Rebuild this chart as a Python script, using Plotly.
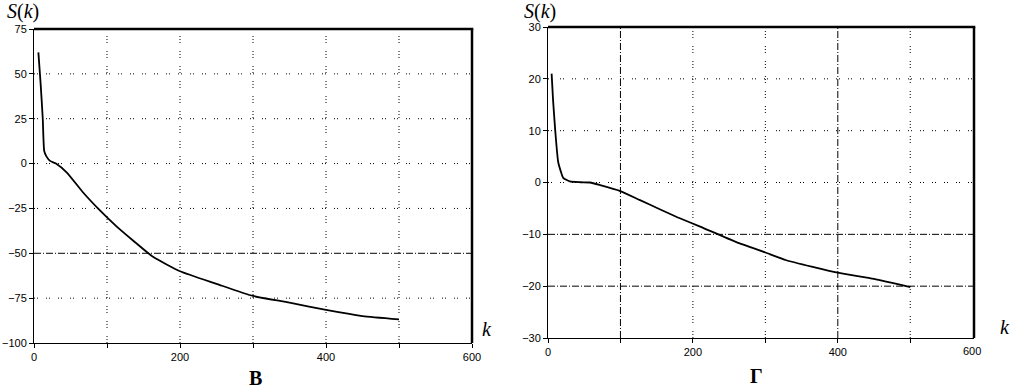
import plotly.graph_objects as go

# ---------- data ----------
k_left = [6, 9, 12, 14, 17, 22, 30, 45, 67, 90, 113, 136, 163, 200, 250, 300, 350, 400, 450, 500]
s_left = [62, 45, 25, 7, 4, 1.5, 0, -5, -16, -26, -35, -43, -52, -60, -67, -73.8, -77.5, -81.6, -85, -86.8]

k_right = [5, 7, 10, 14, 18, 21, 30, 45, 58, 72, 99, 127, 155, 182, 210, 260, 300, 329, 400, 450, 500]
s_right = [21, 15.9, 10, 4, 2, 0.9, 0.2, 0.05, 0, -0.5, -1.6, -3.4, -5.2, -6.9, -8.5, -11.5, -13.5, -15, -17.4, -18.6, -20.2]

x_ticks = [0, 100, 200, 300, 400, 500, 600]
x_ticktext = ["0", "", "200", "", "400", "", "600"]
y_ticks_left = [75, 50, 25, 0, -25, -50, -75, -100]
y_ticks_right = [30, 20, 10, 0, -10, -20, -30]

# gridline styles
left_vgrid_dot = [100, 200, 300, 400, 500]
left_hgrid_dot = [50, 25, 0, -25, -75]
left_hgrid_dashdot = [-50]
right_vgrid_dot = [200, 300, 500]
right_vgrid_dashdot = [100, 400]
right_hgrid_dot = [20, 10, 0]
right_hgrid_dashdot = [-10, -20]

W, H = 1011, 391
DOT_H = "1px,2px,1px,8px"
DOT_V = "1px,2px,1px,2px,1px,8px"
DASHDOT = "7px,2px,1px,2px"

XR_RIGHT = [0, 588]
XD_LEFT = [34 / W, 472 / W]
XD_RIGHT = [548 / W, 974 / W]

fig = go.Figure()
fig.add_trace(go.Scatter(x=k_left, y=s_left, mode="lines",
                         line=dict(color="black", width=1.8, shape="spline", smoothing=0.5),
                         xaxis="x", yaxis="y", showlegend=False, hoverinfo="skip"))
fig.add_trace(go.Scatter(x=k_right, y=s_right, mode="lines",
                         line=dict(color="black", width=1.8, shape="spline", smoothing=0.5),
                         xaxis="x2", yaxis="y2", showlegend=False, hoverinfo="skip"))

shapes = []
def vline(xv, xr, yr, dash):
    shapes.append(dict(type="line", xref=xr, yref=yr + " domain", x0=xv, x1=xv, y0=0, y1=1,
                       line=dict(color="black", width=1, dash=dash), layer="below"))
def hline(yv, xr, yr, dash):
    shapes.append(dict(type="line", xref=xr + " domain", yref=yr, x0=0, x1=1, y0=yv, y1=yv,
                       line=dict(color="black", width=1, dash=dash), layer="below"))

for v in left_vgrid_dot:
    vline(v, "x", "y", DOT_V)
for v in left_hgrid_dot:
    hline(v, "x", "y", DOT_H)
for v in left_hgrid_dashdot:
    hline(v, "x", "y", DASHDOT)
for v in right_vgrid_dot:
    vline(v, "x2", "y2", DOT_V)
for v in right_vgrid_dashdot:
    vline(v, "x2", "y2", DASHDOT)
for v in right_hgrid_dot:
    hline(v, "x2", "y2", DOT_H)
for v in right_hgrid_dashdot:
    hline(v, "x2", "y2", DASHDOT)

# thick top and right frame
for xr, yr in [("x", "y"), ("x2", "y2")]:
    shapes.append(dict(type="line", xref=xr + " domain", yref=yr + " domain", x0=0, x1=1.003, y0=1, y1=1,
                       line=dict(color="black", width=2.5)))
    shapes.append(dict(type="line", xref=xr + " domain", yref=yr + " domain", x0=1, x1=1, y0=0, y1=1,
                       line=dict(color="black", width=2.5)))

tickfont = dict(family="Liberation Sans, Arial", size=11, color="black")
axis_common = dict(showgrid=False, zeroline=False, showline=True, linecolor="black", linewidth=1,
                   ticks="outside", ticklen=4, tickcolor="black", tickfont=tickfont, automargin=False)

fig.update_layout(
    width=W, height=H, margin=dict(l=0, r=0, t=0, b=0),
    paper_bgcolor="white", plot_bgcolor="white",
    shapes=shapes,
    xaxis=dict(domain=XD_LEFT, range=[0, 600], tickvals=x_ticks, ticktext=x_ticktext,
               anchor="y", **axis_common),
    yaxis=dict(domain=[1 - 343 / H, 1 - 29 / H], range=[-100, 75], tickvals=y_ticks_left,
               anchor="x", **axis_common),
    xaxis2=dict(domain=XD_RIGHT, range=XR_RIGHT, tickvals=x_ticks[:-1], ticktext=x_ticktext[:-1],
                anchor="y2", **axis_common),
    yaxis2=dict(domain=[1 - 338 / H, 1 - 27 / H], range=[-30, 30], tickvals=y_ticks_right,
                anchor="x2", **axis_common),
)

serif_i = dict(family="Liberation Serif, Times New Roman", size=20, color="black")
ann = [
    dict(text="<i>S</i>(<i>k</i>)", x=5, y=11),
    dict(text="<i>S</i>(<i>k</i>)", x=522, y=11),
    dict(text="<i>k</i>", x=480, y=329),
    dict(text="<i>k</i>", x=998, y=327),
]
for a in ann:
    fig.add_annotation(text=a["text"], x=a["x"] / W, y=1 - a["y"] / H, xref="paper", yref="paper",
                       xanchor="left", yanchor="middle", showarrow=False, font=serif_i)

# last tick label of right chart lies just beyond its axis range
x600 = XD_RIGHT[0] + (XD_RIGHT[1] - XD_RIGHT[0]) * (x_ticks[-1] - XR_RIGHT[0]) / (XR_RIGHT[1] - XR_RIGHT[0])
fig.add_annotation(text=x_ticktext[-1], x=x600, y=1 - 338 / H, xref="paper", yref="paper",
                   yanchor="top", yshift=-5, showarrow=False, font=tickfont)

bold = dict(family="Liberation Serif, Times New Roman", size=20, color="black")
fig.add_annotation(text="<b>В</b>", x=247 / W, y=0, xref="paper", yref="paper", yanchor="bottom",
                   yshift=0, showarrow=False, font=bold)
fig.add_annotation(text="<b>Г</b>", x=765 / W, y=0, xref="paper", yref="paper", yanchor="bottom",
                   yshift=2, showarrow=False, font=bold)

fig.write_html("out.html", config={"displayModeBar": False},
               post_script="document.body.style.margin='0';document.body.style.overflow='hidden';")
